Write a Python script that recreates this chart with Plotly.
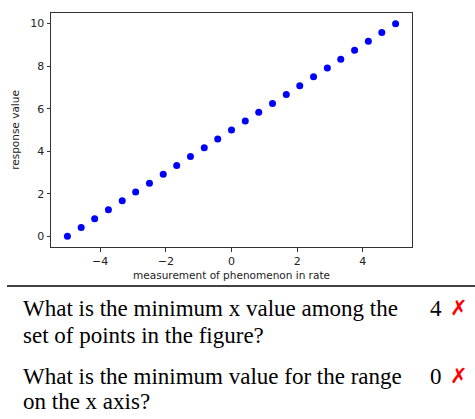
import plotly.graph_objects as go

# Data
x_vals = [-5.0, -4.58, -4.17, -3.75, -3.33, -2.92, -2.5, -2.08, -1.67, -1.25, -0.83, -0.42, 0.0,
          0.42, 0.83, 1.25, 1.67, 2.08, 2.5, 2.92, 3.33, 3.75, 4.17, 4.58, 5.0]
y_vals = [0.0, 0.42, 0.83, 1.25, 1.67, 2.08, 2.5, 2.92, 3.33, 3.75, 4.17, 4.58, 5.0,
          5.42, 5.83, 6.25, 6.67, 7.08, 7.5, 7.92, 8.33, 8.75, 9.17, 9.58, 10.0]
x_ticks = [-4, -2, 0, 2, 4]
y_ticks = [0, 2, 4, 6, 8, 10]
x_title = "measurement of phenomenon in rate"
y_title = "response value"
questions = [
    ["What is the minimum x value among the", "set of points in the figure?"],
    ["What is the minimum value for the range", "on the x axis?"],
]
answers = ["4", "0"]

W, H = 475, 419
L, R, T, B = 51, 412, 13, 247  # plot area in pixels


def px(xp):
    return (xp - L) / (R - L)


def py(yp):
    return (B - yp) / (B - T)


fig = go.Figure()
fig.add_trace(go.Scatter(x=x_vals, y=y_vals, mode="markers",
                         marker=dict(color="#0000ff", size=7, line=dict(width=0)),
                         hoverinfo="skip", showlegend=False))

tick_font = dict(family="DejaVu Sans", size=11, color="#222222")
axis_common = dict(showline=True, mirror=True, linecolor="#333333", linewidth=1,
                   ticks="outside", ticklen=3.5, tickwidth=1, tickcolor="#333333",
                   showgrid=False, zeroline=False, tickfont=tick_font)

fig.update_xaxes(range=[-5.5, 5.5], tickvals=x_ticks, ticktext=["\u22124", "\u22122", "0", "2", "4"],
                 title=dict(text=x_title, font=dict(family="DejaVu Sans", size=10.5, color="#222222"), standoff=4),
                 **axis_common)
fig.update_yaxes(range=[-0.5, 10.5], tickvals=y_ticks,
                 title=dict(text=y_title, font=dict(family="DejaVu Sans", size=10.5, color="#222222"), standoff=8),
                 **axis_common)

shapes = [dict(type="line", xref="paper", yref="paper", x0=px(7), x1=px(475), y0=py(286), y1=py(286),
               line=dict(color="black", width=1.5))]

annotations = []
line_centers = [[308, 335], [376, 402]]
serif = dict(family="Liberation Serif", size=23, color="black")
for qi, lines in enumerate(questions):
    for li, text in enumerate(lines):
        annotations.append(dict(text=text, xref="paper", yref="paper", x=px(21), y=py(line_centers[qi][li]),
                                xanchor="left", yanchor="middle", showarrow=False, font=serif))
    annotations.append(dict(text=answers[qi], xref="paper", yref="paper", x=px(444), y=py(line_centers[qi][0]),
                            xanchor="right", yanchor="middle", showarrow=False, font=serif))
    annotations.append(dict(text="<b>\u2717</b>", xref="paper", yref="paper", x=px(448), y=py(line_centers[qi][0]),
                            xanchor="left", yanchor="middle", showarrow=False,
                            font=dict(family="DejaVu Sans", size=21, color="#ff0000")))

fig.update_layout(width=W, height=H, margin=dict(l=L, r=W - R, t=T, b=H - B, pad=0),
                  paper_bgcolor="white", plot_bgcolor="white",
                  shapes=shapes, annotations=annotations)

fig.write_html("out.html", config={"displayModeBar": False},
               post_script="document.body.style.margin='0px';document.body.style.overflow='hidden';")
